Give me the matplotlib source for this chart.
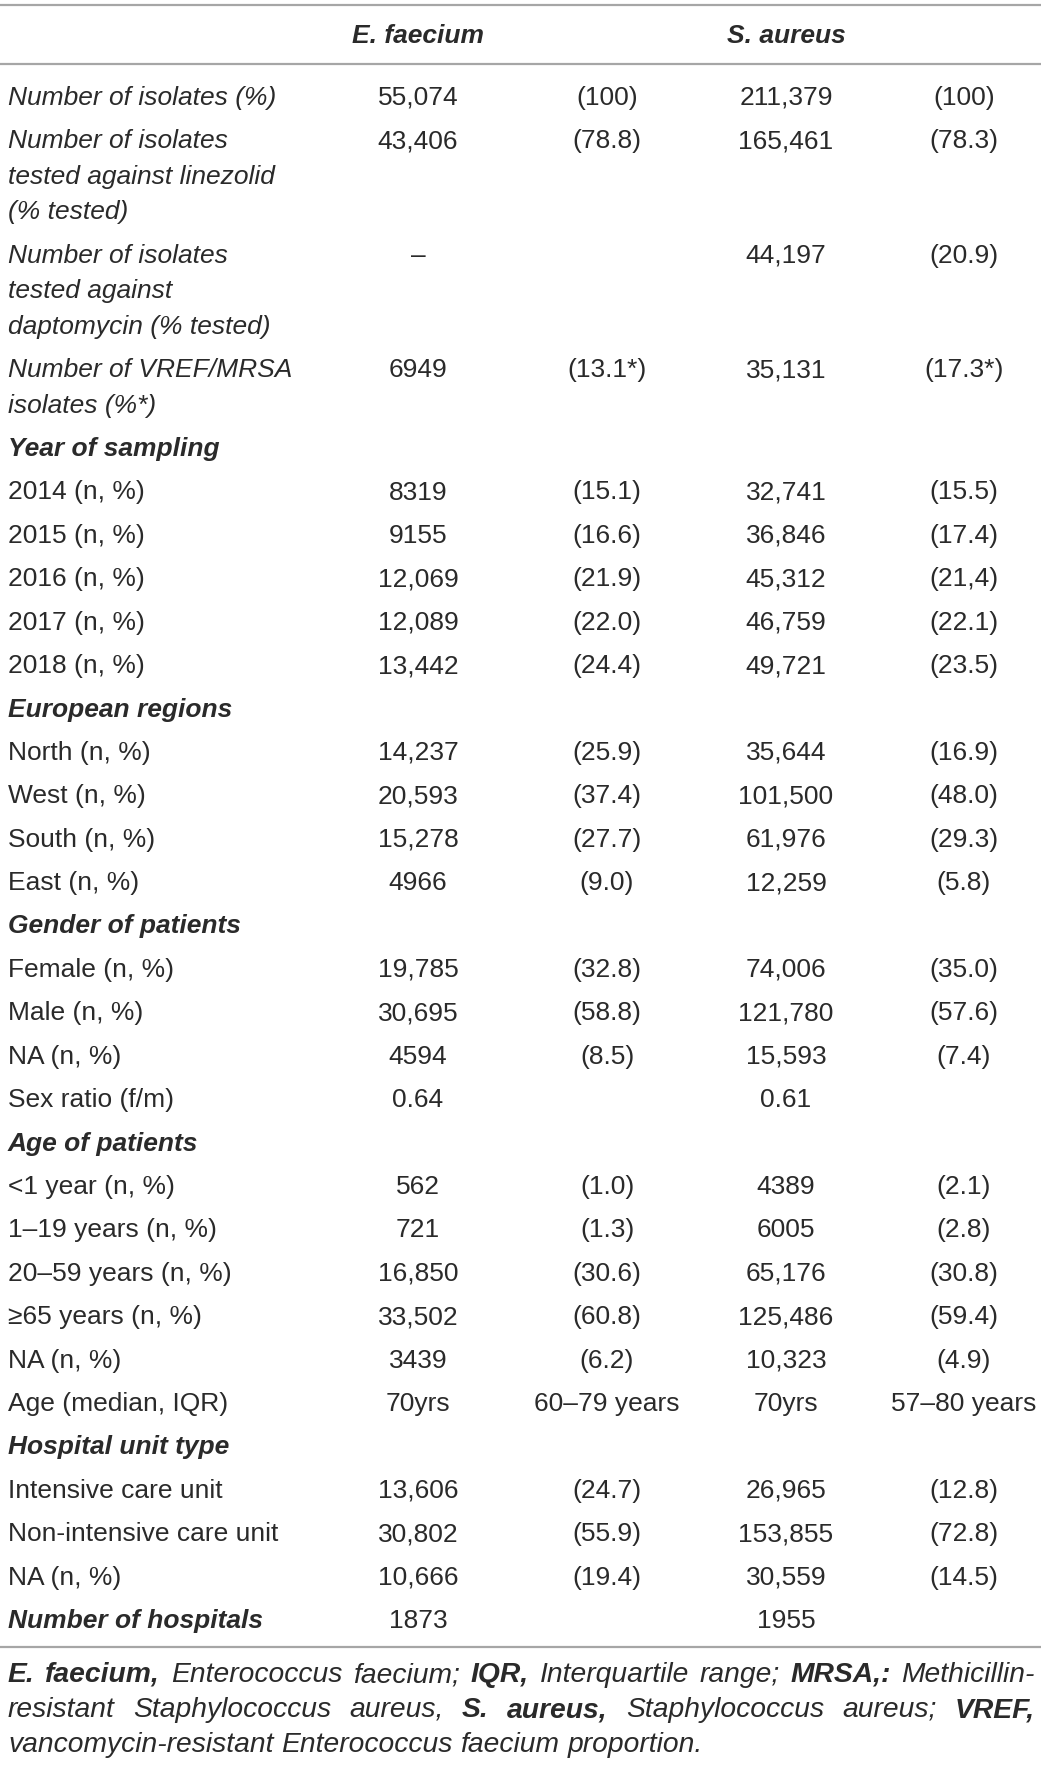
import matplotlib
matplotlib.use('Agg')
import matplotlib.pyplot as plt

W, H = 1041, 1768

# table contents
species = ["E. faecium", "S. aureus"]
row_labels = [
    "Number of isolates (%)",
    "Number of isolates\ntested against linezolid\n(% tested)",
    "Number of isolates\ntested against\ndaptomycin (% tested)",
    "Number of VREF/MRSA\nisolates (%*)",
    "Year of sampling",
    "2014 (n, %)", "2015 (n, %)", "2016 (n, %)", "2017 (n, %)", "2018 (n, %)",
    "European regions",
    "North (n, %)", "West (n, %)", "South (n, %)", "East (n, %)",
    "Gender of patients",
    "Female (n, %)", "Male (n, %)", "NA (n, %)", "Sex ratio (f/m)",
    "Age of patients",
    "<1 year (n, %)", "1–19 years (n, %)", "20–59 years (n, %)", "≥65 years (n, %)",
    "NA (n, %)", "Age (median, IQR)",
    "Hospital unit type",
    "Intensive care unit", "Non-intensive care unit", "NA (n, %)",
    "Number of hospitals",
]
ef_n = ["55,074", "43,406", "–", "6949", "",
        "8319", "9155", "12,069", "12,089", "13,442", "",
        "14,237", "20,593", "15,278", "4966", "",
        "19,785", "30,695", "4594", "0.64", "",
        "562", "721", "16,850", "33,502", "3439", "70yrs", "",
        "13,606", "30,802", "10,666", "1873"]
ef_p = ["(100)", "(78.8)", "", "(13.1*)", "",
        "(15.1)", "(16.6)", "(21.9)", "(22.0)", "(24.4)", "",
        "(25.9)", "(37.4)", "(27.7)", "(9.0)", "",
        "(32.8)", "(58.8)", "(8.5)", "", "",
        "(1.0)", "(1.3)", "(30.6)", "(60.8)", "(6.2)", "60–79 years", "",
        "(24.7)", "(55.9)", "(19.4)", ""]
sa_n = ["211,379", "165,461", "44,197", "35,131", "",
        "32,741", "36,846", "45,312", "46,759", "49,721", "",
        "35,644", "101,500", "61,976", "12,259", "",
        "74,006", "121,780", "15,593", "0.61", "",
        "4389", "6005", "65,176", "125,486", "10,323", "70yrs", "",
        "26,965", "153,855", "30,559", "1955"]
sa_p = ["(100)", "(78.3)", "(20.9)", "(17.3*)", "",
        "(15.5)", "(17.4)", "(21,4)", "(22.1)", "(23.5)", "",
        "(16.9)", "(48.0)", "(29.3)", "(5.8)", "",
        "(35.0)", "(57.6)", "(7.4)", "", "",
        "(2.1)", "(2.8)", "(30.8)", "(59.4)", "(4.9)", "57–80 years", "",
        "(12.8)", "(72.8)", "(14.5)", ""]
italic_rows = row_labels[:4]
bold_rows = ["Year of sampling", "European regions", "Gender of patients",
             "Age of patients", "Hospital unit type", "Number of hospitals"]

footnote = [
    [("E. faecium,", True), ("Enterococcus faecium;", False), ("IQR,", True),
     ("Interquartile range;", False), ("MRSA,:", True), ("Methicillin-", False)],
    [("resistant Staphylococcus aureus,", False), ("S. aureus,", True),
     ("Staphylococcus aureus;", False), ("VREF,", True)],
    [("vancomycin-resistant Enterococcus faecium proportion.", False)],
]

FONT = "Liberation Sans"
FS = 19
FS_NOTE = 20.3
TXT = "#2a2a2a"
RULE = "#a6a6a6"
BASE = 9.5  # centre of cap height -> baseline offset, px

fig = plt.figure(figsize=(W / 100, H / 100), dpi=100)
ax = fig.add_axes([0, 0, 1, 1])
ax.set_xlim(0, W)
ax.set_ylim(H, 0)
ax.axis("off")

col_x = [418, 607, 786, 964]
x_left = 8

# rules
ax.hlines([5, 64, 1647], 0, W, colors=RULE, lw=1.6)

# header
for name, cx in zip(species, [col_x[0], col_x[2]]):
    ax.text(cx, 43, name, ha="center", va="baseline", fontsize=FS,
            family=FONT, style="italic", weight="bold", color=TXT)

row_step, line_step = 43.4, 35.5
y = 95.5
for i, lab in enumerate(row_labels):
    lines = lab.split("\n")
    if lab in bold_rows:
        st, wt = "italic", "bold"
    elif lab in italic_rows:
        st, wt = "italic", "normal"
    else:
        st, wt = "normal", "normal"
    for k, ln in enumerate(lines):
        ax.text(x_left, y + k * line_step + BASE, ln, ha="left", va="baseline",
                fontsize=FS, family=FONT, style=st, weight=wt, color=TXT)
    for cx, vals in zip(col_x, [ef_n, ef_p, sa_n, sa_p]):
        if vals[i]:
            ax.text(cx, y + BASE, vals[i], ha="center", va="baseline",
                    fontsize=FS, family=FONT, color=TXT)
    y += (len(lines) - 1) * line_step + row_step

# footnote, justified like the source
fig.canvas.draw()
renderer = fig.canvas.get_renderer()
inv = ax.transData.inverted()
foot_base = [1682, 1717, 1752]
x_right = 1035
for li, runs in enumerate(footnote):
    words = []
    for txt, bold in runs:
        for w in txt.split(" "):
            words.append((w, bold))
    arts = []
    for w, bold in words:
        t = ax.text(0, foot_base[li], w, ha="left", va="baseline",
                    fontsize=FS_NOTE, family=FONT, style="italic",
                    weight="bold" if bold else "normal", color=TXT)
        arts.append(t)
    widths = []
    for t in arts:
        bb = t.get_window_extent(renderer)
        x0 = inv.transform((bb.x0, bb.y0))[0]
        x1 = inv.transform((bb.x1, bb.y0))[0]
        widths.append(x1 - x0)
    if li < len(footnote) - 1 and len(arts) > 1:
        gap = (x_right - x_left - sum(widths)) / (len(arts) - 1)
    else:
        gap = 7.8
    x = x_left
    for t, wd in zip(arts, widths):
        t.set_x(x)
        x += wd + gap

fig.savefig("out.png", dpi=100, facecolor="white")
